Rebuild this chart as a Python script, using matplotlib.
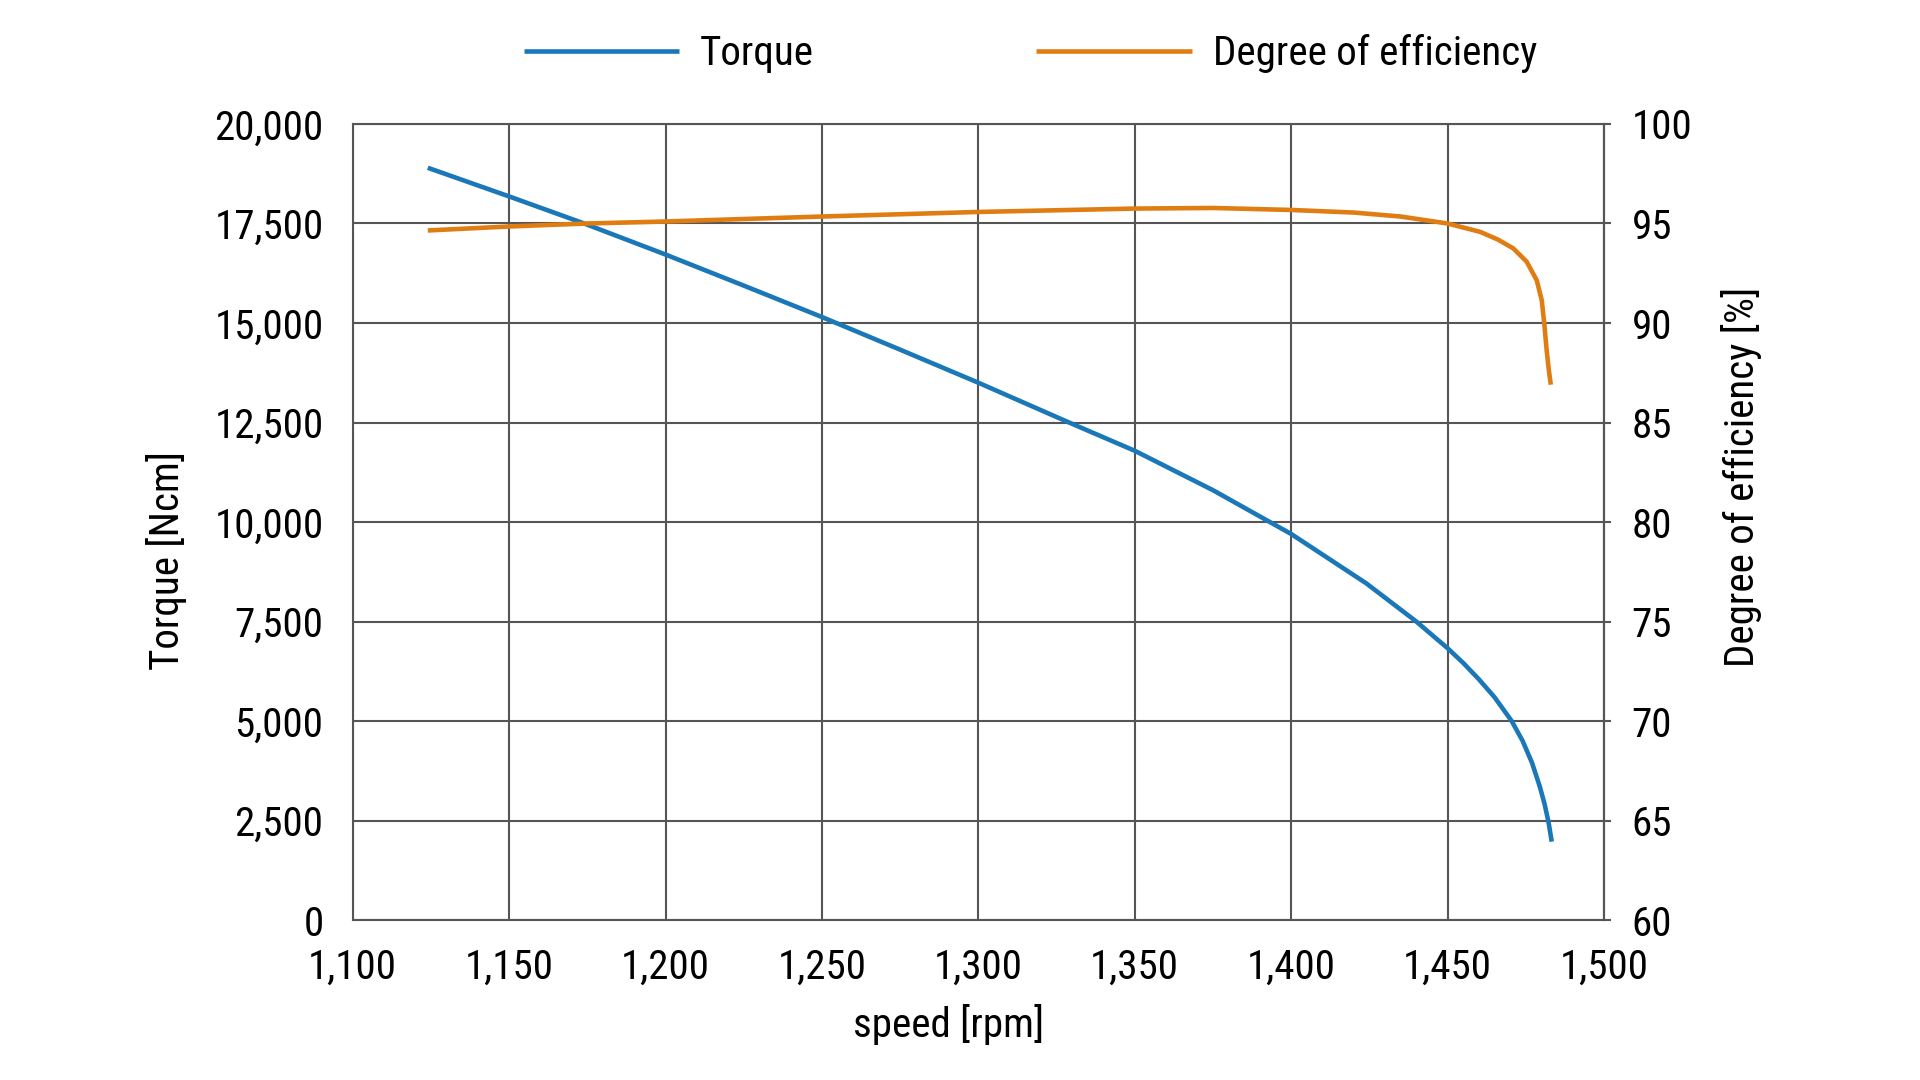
import matplotlib
matplotlib.use("Agg")
import matplotlib.pyplot as plt
from matplotlib import font_manager as fm
from matplotlib.ticker import FuncFormatter

# ---- data ----
torque_rpm = [1124, 1150, 1174, 1200, 1225, 1250, 1275, 1300, 1329, 1350, 1375,
              1400, 1424, 1440, 1450, 1455, 1460, 1465, 1470.5, 1474, 1477, 1479.5, 1481,
              1482.3, 1483.3]
torque_ncm = [18900, 18180, 17500, 16720, 15940, 15150, 14330, 13500, 12500, 11790, 10800,
              9700, 8460, 7500, 6830, 6460, 6050, 5600, 5000, 4500, 3950, 3350, 2920,
              2450, 1970]

eff_rpm = [1124, 1150, 1175, 1200, 1250, 1300, 1350, 1375, 1400, 1420, 1435, 1450,
           1460.4, 1466, 1471, 1475.3, 1478.5, 1480.1, 1480.9, 1481.7, 1482.4, 1483]
eff_pct = [94.65, 94.85, 95.0, 95.1, 95.35, 95.58, 95.75, 95.78, 95.68, 95.55, 95.35, 95.0,
           94.58, 94.2, 93.75, 93.08, 92.15, 91.15, 90.0, 88.6, 87.6, 86.9]

x_ticks = [1100, 1150, 1200, 1250, 1300, 1350, 1400, 1450, 1500]
left_ticks = [0, 2500, 5000, 7500, 10000, 12500, 15000, 17500, 20000]
right_ticks = [60, 65, 70, 75, 80, 85, 90, 95, 100]

series_names = ["Torque", "Degree of efficiency"]
x_label = "speed [rpm]"
left_label = "Torque [Ncm]"
right_label = "Degree of efficiency [%]"

BLUE = "#1a78b8"
ORANGE = "#e07d12"
GRID = "#555555"

avail = {f.name for f in fm.fontManager.ttflist}
fam = [f for f in ["Roboto Condensed", "IBM Plex Sans Condensed", "Open Sans", "DejaVu Sans"]
       if f in avail][:1] + ["DejaVu Sans"]
plt.rcParams["font.family"] = fam
FS = 29.5

fig = plt.figure(figsize=(19.2, 10.8), dpi=100)
ax = fig.add_axes([0.1837, 0.1481, 0.6517, 0.7371])
ax2 = ax.twinx()

ax.set_xlim(1100, 1500)
ax.set_ylim(0, 20000)
ax2.set_ylim(60, 100)
ax.set_xticks(x_ticks)
ax.set_yticks(left_ticks)
ax2.set_yticks(right_ticks)

comma = FuncFormatter(lambda v, p: f"{int(round(v)):,}")
ax.xaxis.set_major_formatter(comma)
ax.yaxis.set_major_formatter(comma)

ax.grid(True, color=GRID, linewidth=1.5)
ax.set_axisbelow(True)
for a in (ax, ax2):
    for s in a.spines.values():
        s.set_color(GRID)
        s.set_linewidth(1.5)
ax2.spines["top"].set_visible(False)
ax2.spines["left"].set_visible(False)
ax2.spines["bottom"].set_visible(False)

ax.tick_params(axis="x", length=0, pad=20, labelsize=FS)
ax.tick_params(axis="y", length=0, pad=21, labelsize=FS)
ax2.tick_params(axis="y", length=5, width=1.5, color=GRID, pad=15, labelsize=FS)

l1, = ax.plot(torque_rpm, torque_ncm, color=BLUE, linewidth=3.3, solid_capstyle="butt")
l2, = ax2.plot(eff_rpm, eff_pct, color=ORANGE, linewidth=3.3, solid_capstyle="butt")

ax.set_xlabel(x_label, fontsize=FS)
ax.xaxis.set_label_coords(0.4766, -0.105)
ax.set_ylabel(left_label, fontsize=FS)
ax.yaxis.set_label_coords(-0.1324, 0.452)
ax2.set_ylabel(right_label, fontsize=FS, rotation=90)
ax2.yaxis.set_label_coords(1.0933, 0.557)

fig.legend([l1, l2], series_names, loc="center", bbox_to_anchor=(0.5366, 0.9506),
           ncol=2, frameon=False, fontsize=FS, handlelength=3.8, handletextpad=0.5,
           columnspacing=5.43)

fig.savefig("out.png", dpi=100, facecolor="white")
